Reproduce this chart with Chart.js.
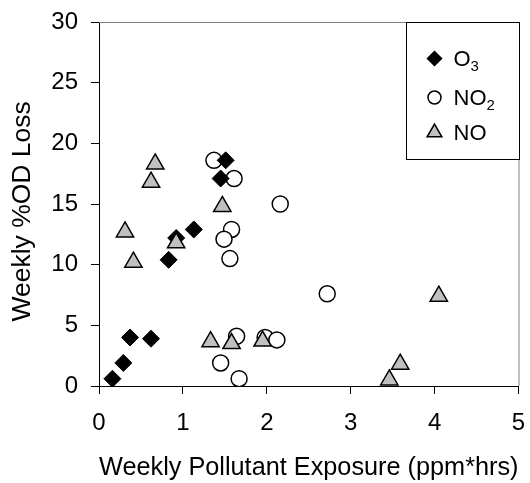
<!DOCTYPE html>
<html><head><meta charset="utf-8">
<script src="https://cdn.jsdelivr.net/npm/chart.js@4"></script>
<style>html,body{margin:0;padding:0;background:#fff}#wrap{width:530px;height:483px}</style>
</head><body><div id="wrap"><canvas id="c" width="530" height="483"></canvas></div>
<script>
const seriesNames = ['O₃', 'NO₂', 'NO'];
const o3X = [0.16, 0.29, 0.37, 0.62, 0.83, 0.92, 1.13, 1.45, 1.51];
const o3Y = [0.6, 1.9, 4.0, 3.9, 10.4, 12.2, 12.9, 17.1, 18.6];
const no2X = [1.37, 1.61, 2.16, 1.58, 1.49, 1.56, 2.72, 1.64, 1.98, 2.12, 1.45, 1.67];
const no2Y = [18.6, 17.1, 15.0, 12.9, 12.1, 10.5, 7.6, 4.1, 4.0, 3.8, 1.9, 0.6];
const noX = [0.67, 0.62, 1.47, 0.31, 0.92, 0.41, 1.33, 1.58, 1.95, 4.05, 3.59, 3.46];
const noY = [18.3, 16.8, 14.8, 12.7, 11.8, 10.2, 3.65, 3.5, 3.7, 7.4, 1.8, 0.5];
const xTicks = [0, 1, 2, 3, 4, 5];
const yTicks = [0, 5, 10, 15, 20, 25, 30];
const xTitle = 'Weekly Pollutant Exposure (ppm*hrs)';
const yTitle = 'Weekly %OD Loss';

const FONT = "'Liberation Sans', Arial, sans-serif";
const pts = (xs, ys) => xs.map((x, i) => ({x: x, y: ys[i]}));

const legendPlugin = {
  id: 'boxLegend',
  afterDraw(chart) {
    const ctx = chart.ctx, a = chart.chartArea;
    ctx.save();
    ctx.strokeStyle = '#808080';
    ctx.lineWidth = 1;
    ctx.beginPath();
    ctx.moveTo(a.left, a.top + 0.5);
    ctx.lineTo(a.right + 0.5, a.top + 0.5);
    ctx.lineTo(a.right + 0.5, a.bottom);
    ctx.stroke();
    const w = 113, h = 137;
    const L = Math.round(a.right - w) + 0.5, T = Math.round(a.top) + 0.5;
    ctx.fillStyle = '#fff';
    ctx.fillRect(L, T, w, h);
    ctx.strokeStyle = '#000';
    ctx.strokeRect(L, T, w, h);
    const rows = [36, 75, 110];
    const radii = [7, 6.5, 8.5];
    const subMap = {'₂': '2', '₃': '3'};
    chart.data.datasets.forEach((ds, i) => {
      const cy = T + rows[i];
      ctx.save();
      ctx.fillStyle = ds.backgroundColor;
      ctx.strokeStyle = ds.borderColor;
      ctx.lineWidth = 1.5;
      Chart.helpers.drawPoint(ctx, {pointStyle: ds.pointStyle, radius: radii[i], rotation: 0, borderWidth: 1.5}, L + 28, cy);
      ctx.restore();
      const lab = ds.label;
      const last = lab.slice(-1);
      const main = subMap[last] ? lab.slice(0, -1) : lab;
      const sub = subMap[last] || '';
      ctx.fillStyle = '#000';
      ctx.textBaseline = 'alphabetic';
      ctx.textAlign = 'left';
      ctx.font = '22px ' + FONT;
      const tx = L + 47, by = cy + 7.5;
      ctx.fillText(main, tx, by);
      if (sub) {
        const mw = ctx.measureText(main).width;
        ctx.font = '15px ' + FONT;
        ctx.fillText(sub, tx + mw, by + 5);
      }
    });
    ctx.restore();
  }
};

new Chart(document.getElementById('c'), {
  type: 'scatter',
  data: {
    datasets: [
      {label: seriesNames[0], data: pts(o3X, o3Y), pointStyle: 'rectRot', pointRadius: 8.5, pointHoverRadius: 8.5,
       backgroundColor: '#000', borderColor: '#000', borderWidth: 1, order: 1},
      {label: seriesNames[1], data: pts(no2X, no2Y), pointStyle: 'circle', pointRadius: 8, pointHoverRadius: 8,
       backgroundColor: '#fff', borderColor: '#000', borderWidth: 1.5, order: 2},
      {label: seriesNames[2], data: pts(noX, noY), pointStyle: 'triangle', pointRadius: 10, pointHoverRadius: 10,
       backgroundColor: '#c0c0c0', borderColor: '#000', borderWidth: 1.5, order: 0}
    ]
  },
  options: {
    responsive: false,
    animation: false,
    devicePixelRatio: 1,
    layout: {padding: {top: 22, right: 8, left: 0, bottom: 0}},
    plugins: {legend: {display: false}, tooltip: {enabled: false}},
    scales: {
      x: {
        type: 'linear', min: 0, max: 5,
        afterBuildTicks: s => { s.ticks = xTicks.map(v => ({value: v})); },
        afterFit: s => { s.height = 97; s.paddingLeft = 0; s.paddingRight = 0; },
        ticks: {color: '#000', font: {family: FONT, size: 24}, padding: 15},
        grid: {drawOnChartArea: false, drawTicks: true, tickLength: 8, color: '#000'},
        border: {display: true, color: '#000', width: 1},
        title: {display: true, text: xTitle, color: '#000', font: {family: FONT, size: 26}, padding: {top: 0, bottom: 0}}
      },
      y: {
        type: 'linear', min: 0, max: 30,
        afterBuildTicks: s => { s.ticks = yTicks.map(v => ({value: v})); },
        afterFit: s => { s.width = 99; s.paddingTop = 0; s.paddingBottom = 0; },
        ticks: {color: '#000', font: {family: FONT, size: 24}, padding: 13},
        grid: {drawOnChartArea: false, drawTicks: true, tickLength: 8, color: '#000'},
        border: {display: true, color: '#000', width: 1},
        title: {display: true, text: yTitle + '  ', color: '#000', font: {family: FONT, size: 26.5}, padding: {top: 7, bottom: 0}}
      }
    }
  },
  plugins: [legendPlugin]
});
</script>
</body></html>
